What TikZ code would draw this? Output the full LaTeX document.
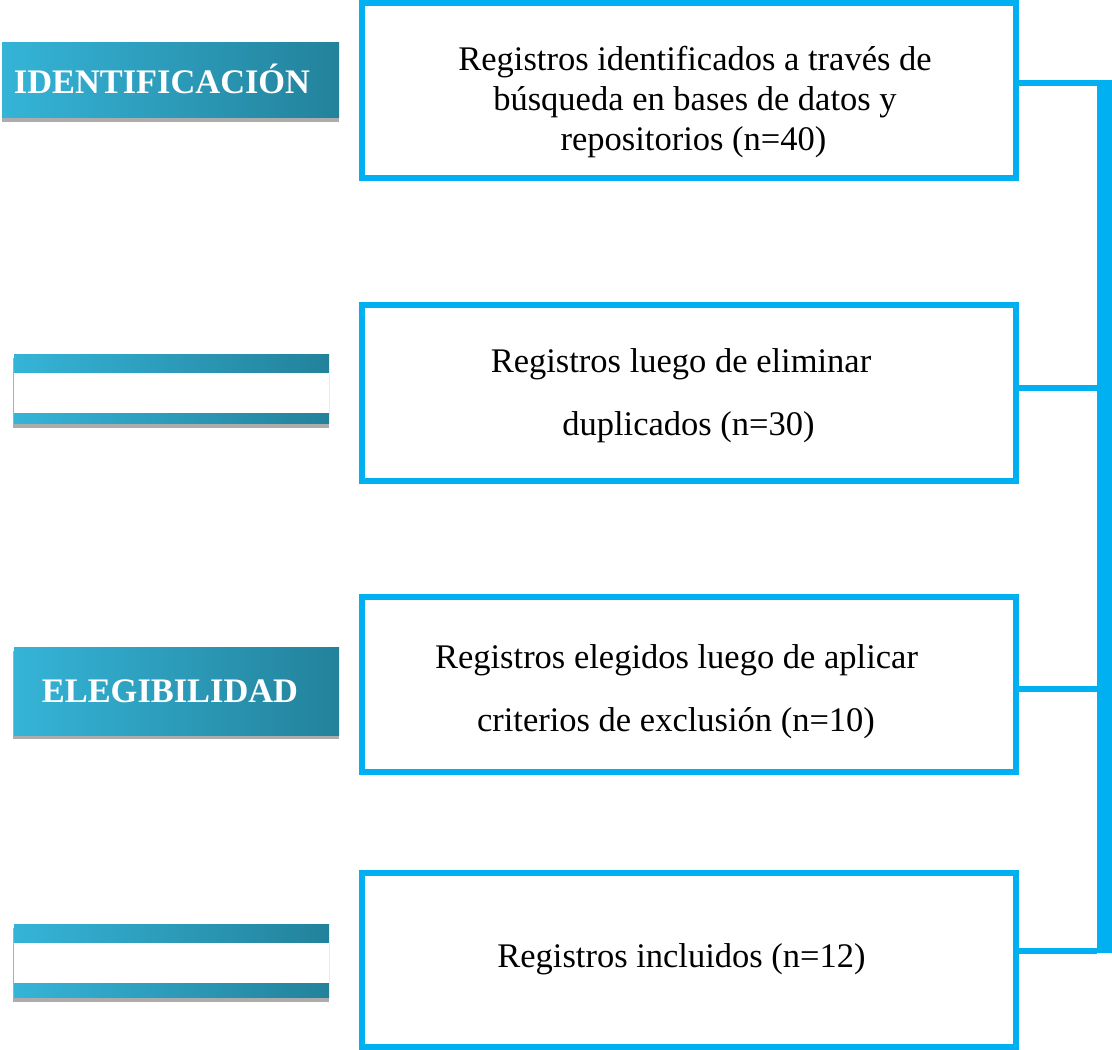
\documentclass[tikz,border=0pt]{standalone}
\usepackage{fontspec}
\setmainfont{Liberation Serif}
\definecolor{cyanb}{RGB}{0,176,240}
\definecolor{gradL}{RGB}{53,180,215}
\definecolor{gradR}{RGB}{35,130,155}
\definecolor{shad}{RGB}{172,172,172}
\begin{document}
\begin{tikzpicture}[x=1pt,y=-1pt,
  box/.style={draw=cyanb, line width=6pt, inner sep=0pt, outer sep=0pt, minimum width=654pt},
  txt/.style={font=\fontsize{34.5}{40}\selectfont, anchor=base, inner sep=0pt},
  lab/.style={left color=gradL, right color=gradR, inner sep=0pt, outer sep=0pt},
  labtxt/.style={text=white, font=\bfseries\fontsize{34.4}{40}\selectfont, anchor=base, inner sep=0pt},
  shadowbox/.style={fill=shad},
  whitebox/.style={fill=white},
  conn/.style={draw=cyanb, line width=6pt},
  bar/.style={draw=cyanb, line width=15pt}]
\useasboundingbox (0,0) rectangle (1112,1050);

% left labels
\fill[shadowbox] (2,46) rectangle (339,122);
\node[lab, minimum width=337pt, minimum height=75pt] (l1) at (170.5,79.5) {};
\node[labtxt] (l1t) at (162,93) {IDENTIFICACIÓN};

\fill[shadowbox] (13,358) rectangle (329,428);
\node[lab, minimum width=315pt, minimum height=69pt] (l2) at (171.5,388.5) {};
\fill[whitebox] (14,373) rectangle (329,413);

\fill[shadowbox] (13,651) rectangle (339,739);
\node[lab, minimum width=325pt, minimum height=88pt] (l3) at (176.5,691) {};
\node[labtxt] (l3t) at (170,702) {ELEGIBILIDAD};

\fill[shadowbox] (13,928) rectangle (329,1002);
\node[lab, minimum width=315pt, minimum height=73pt] (l4) at (171.5,960.5) {};
\fill[whitebox] (14,943) rectangle (329,983);

% boxes
\node[box, minimum height=175pt] (b1) at (689,90.5) {};
\node[box, minimum height=176pt] (b2) at (689,393) {};
\node[box, minimum height=175pt] (b3) at (689,684.5) {};
\node[box, minimum height=174pt] (b4) at (689,960) {};

% texts
\node[txt] (t1a) at (695,70) {Registros identificados a través de};
\node[txt] (t1b) at (695,110) {búsqueda en bases de datos y};
\node[txt] (t1c) at (693.5,150) {repositorios (n=40)};
\node[txt] (t2a) at (681,372) {Registros luego de eliminar};
\node[txt] (t2b) at (688.5,435) {duplicados (n=30)};
\node[txt] (t3a) at (676.5,668) {Registros elegidos luego de aplicar};
\node[txt] (t3b) at (676,731) {criterios de exclusión (n=10)};
\node[txt] (t4a) at (681.5,967) {Registros incluidos (n=12)};

% connectors
\coordinate (bt) at (1104.5,80);
\coordinate (bb) at (1104.5,953);
\draw[bar] (bt) -- (bb);
\coordinate (c1) at (1097,83);
\coordinate (c2) at (1097,388);
\coordinate (c3) at (1097,689);
\coordinate (c4) at (1097,950.5);
\draw[conn] (b1.east |- c1) -- (c1);
\draw[conn] (b2.east |- c2) -- (c2);
\draw[conn] (b3.east |- c3) -- (c3);
\draw[conn] (b4.east |- c4) -- (c4);
\end{tikzpicture}
\end{document}
